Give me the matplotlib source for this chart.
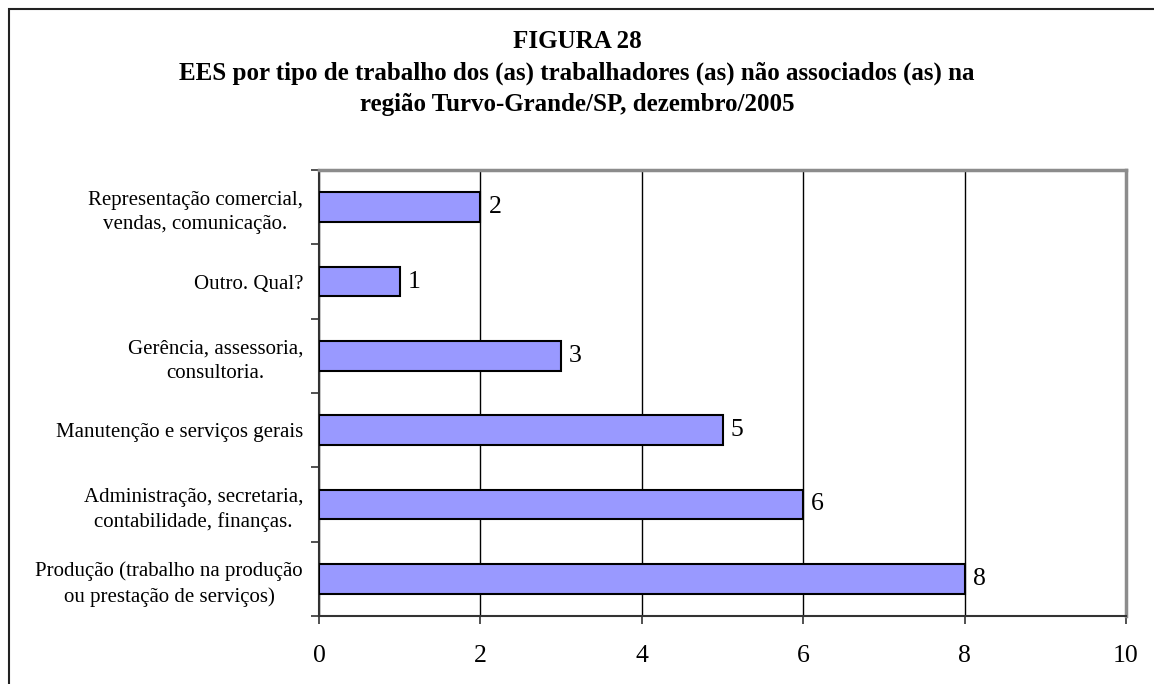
import matplotlib
matplotlib.use("Agg")
from matplotlib import pyplot as plt
from matplotlib.patches import Rectangle

# data, bottom to top as drawn
categories = [
    "Produção (trabalho na produção\nou prestação de serviços)",
    "Administração, secretaria,\ncontabilidade, finanças.",
    "Manutenção e serviços gerais",
    "Gerência, assessoria,\nconsultoria.",
    "Outro. Qual?",
    "Representação comercial,\nvendas, comunicação.",
]
values = [8, 6, 5, 3, 1, 2]
xticks = [0, 2, 4, 6, 8, 10]

title = ("FIGURA 28\n"
         "EES por tipo de trabalho dos (as) trabalhadores (as) não associados (as) na\n"
         "região Turvo-Grande/SP, dezembro/2005")

plt.rcParams["font.family"] = ["Liberation Serif", "DejaVu Serif"]

W, H = 1154, 684
fig = plt.figure(figsize=(W / 100, H / 100), dpi=100)
ax = fig.add_axes([319 / W, 1 - 616 / H, (1126 - 319) / W, (616 - 170) / H])

ypos = list(range(len(categories)))
ax.barh(ypos, values, height=0.4, color="#9999FF", edgecolor="black",
        linewidth=1.5, zorder=3)
for y, v in zip(ypos, values):
    ax.text(v + 0.1, y, str(v), va="center", ha="left", fontsize=18.5, zorder=4)

ax.set_xlim(0, 10)
ax.set_ylim(-0.5, len(categories) - 0.5)
ax.set_xticks(xticks)
ax.set_xticklabels([str(t) for t in xticks], fontsize=18.5)
ax.tick_params(axis="x", direction="out", length=6, width=1.2, pad=15, color="#333333")

ax.set_yticks([i - 0.5 for i in range(len(categories) + 1)])
ax.set_yticklabels([])
ax.set_yticks(ypos, minor=True)
ax.set_yticklabels(categories, minor=True, fontsize=15, ha="right",
                   multialignment="center", linespacing=1.4)
ax.tick_params(axis="y", which="minor", length=0, pad=11.5)
ax.tick_params(axis="y", which="major", direction="out", length=6, width=1.2, color="#333333")

ax.grid(axis="x", color="black", linewidth=1, zorder=1)
ax.set_axisbelow(True)

for side in ("left", "bottom"):
    ax.spines[side].set_color("#333333")
    ax.spines[side].set_linewidth(1.5)
for side in ("top", "right"):
    ax.spines[side].set_color("#8c8c8c")
    ax.spines[side].set_linewidth(2.5)

fig.text(0.5, 1 - 30 / H, title, ha="center", va="top", fontsize=18,
         fontweight="bold", linespacing=1.45)

# outer frame, right and bottom edges fall outside the image
fig.patches.append(Rectangle((8.5 / W, -0.1), 1.2, 1 - 8.5 / H + 0.1,
                             transform=fig.transFigure, fill=False,
                             edgecolor="#222222", linewidth=1.5))

fig.savefig("out.png", dpi=100)
